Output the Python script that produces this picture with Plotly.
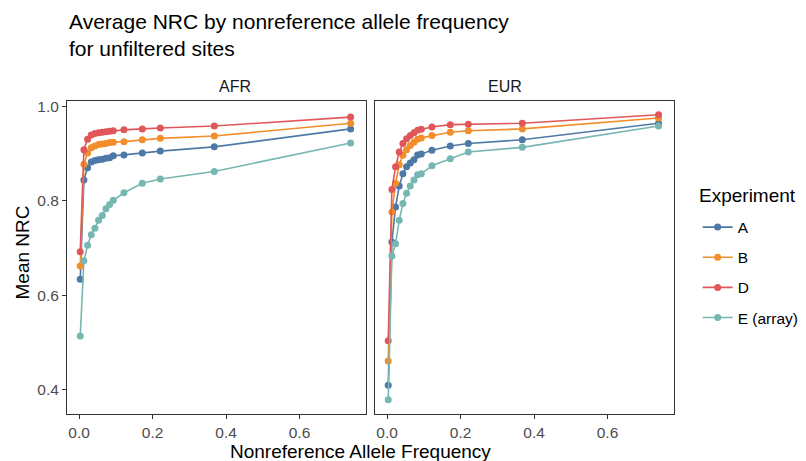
import plotly.graph_objects as go

# ---- data ----
experiments = ["A", "B", "D", "E (array)"]
colors = ["#4E79A7", "#F28E2B", "#E15759", "#76B7B2"]

freq = [0.003, 0.013, 0.023, 0.033, 0.043, 0.053, 0.063, 0.073, 0.083, 0.093,
        0.122, 0.172, 0.221, 0.368, 0.739]

afr_A = [0.634, 0.844, 0.870, 0.882, 0.885, 0.887, 0.888, 0.890, 0.891, 0.895,
         0.897, 0.901, 0.905, 0.914, 0.952]
afr_B = [0.662, 0.877, 0.901, 0.912, 0.916, 0.919, 0.920, 0.921, 0.923, 0.924,
         0.925, 0.929, 0.932, 0.937, 0.964]
afr_D = [0.692, 0.908, 0.930, 0.939, 0.942, 0.944, 0.945, 0.946, 0.947, 0.948,
         0.950, 0.952, 0.954, 0.958, 0.977]
afr_E = [0.514, 0.673, 0.706, 0.728, 0.742, 0.759, 0.769, 0.783, 0.792, 0.801,
         0.817, 0.837, 0.846, 0.862, 0.922]

eur_A = [0.410, 0.713, 0.787, 0.831, 0.857, 0.872, 0.880, 0.887, 0.897, 0.899,
         0.907, 0.916, 0.921, 0.929, 0.964]
eur_B = [0.461, 0.776, 0.837, 0.876, 0.896, 0.908, 0.917, 0.924, 0.930, 0.933,
         0.938, 0.945, 0.948, 0.952, 0.975]
eur_D = [0.504, 0.824, 0.872, 0.903, 0.921, 0.931, 0.938, 0.944, 0.949, 0.951,
         0.956, 0.961, 0.962, 0.964, 0.982]
eur_E = [0.379, 0.683, 0.709, 0.759, 0.794, 0.816, 0.831, 0.844, 0.855, 0.857,
         0.874, 0.889, 0.903, 0.913, 0.958]

x_ticks = [0.0, 0.2, 0.4, 0.6]
y_ticks = [0.4, 0.6, 0.8, 1.0]

afr = [afr_A, afr_B, afr_D, afr_E]
eur = [eur_A, eur_B, eur_D, eur_E]

FONT = "Liberation Sans, Arial, Helvetica, sans-serif"

fig = go.Figure()
for name, col, ya, ye in zip(experiments, colors, afr, eur):
    fig.add_trace(go.Scatter(x=freq, y=ya, mode="lines+markers", name=name,
                             line=dict(color=col, width=1.6),
                             marker=dict(color=col, size=7),
                             xaxis="x", yaxis="y", legendgroup=name))
    fig.add_trace(go.Scatter(x=freq, y=ye, mode="lines+markers", name=name,
                             line=dict(color=col, width=1.6),
                             marker=dict(color=col, size=7),
                             xaxis="x2", yaxis="y3", legendgroup=name,
                             showlegend=False))

axis_common = dict(showline=True, mirror=True, linecolor="#333333", linewidth=1,
                   ticks="outside", ticklen=4, tickcolor="#333333",
                   showgrid=False, zeroline=False,
                   tickfont=dict(family=FONT, size=15.5, color="#4d4d4d"))

xr = [-0.033, 0.781]
yr = [0.349, 1.011]

# page body has an 8px margin: figure is 798x453 drawn at (8, 8)
fig.update_layout(
    width=798, height=453,
    margin=dict(l=59, r=132, t=93, b=47, autoexpand=False),
    plot_bgcolor="white", paper_bgcolor="white",
    font=dict(family=FONT, color="#000000"),
    xaxis=dict(domain=[0, 0.4926], range=xr, tickvals=x_ticks,
               ticktext=["0.0", "0.2", "0.4", "0.6"], anchor="y", **axis_common),
    xaxis2=dict(domain=[0.5074, 1], range=xr, tickvals=x_ticks,
                ticktext=["0.0", "0.2", "0.4", "0.6"], anchor="y3", **axis_common),
    yaxis=dict(domain=[0, 1], range=yr, tickvals=y_ticks,
               ticktext=["0.4", "0.6", "0.8", "1.0"], anchor="x", **axis_common),
    yaxis3=dict(domain=[0, 1], range=yr, anchor="x2", matches="y",
                showline=True, mirror=True, linecolor="#333333", linewidth=1,
                showticklabels=False, ticks="", showgrid=False, zeroline=False),
    legend=dict(x=1.039, y=0.452, xanchor="left", yanchor="middle",
                font=dict(family=FONT, size=15.5), tracegroupgap=7,
                itemwidth=30),
    showlegend=True,
)

annotations = [
    dict(text="Average NRC by nonreference allele frequency<br>for unfiltered sites",
         x=0, y=1, xref="paper", yref="paper", xanchor="left", yanchor="top",
         yshift=93, align="left", showarrow=False,
         font=dict(family=FONT, size=21, color="#000000")),
    dict(text="AFR", x=0.2463, y=1.0, xref="paper", yref="paper", yanchor="middle",
         yshift=15, showarrow=False, font=dict(family=FONT, size=16, color="#1a1a1a")),
    dict(text="EUR", x=0.7537, y=1.0, xref="paper", yref="paper", yanchor="middle",
         yshift=15, showarrow=False, font=dict(family=FONT, size=16, color="#1a1a1a")),
    dict(text="Nonreference Allele Frequency", x=0.5, y=0, xref="paper", yref="paper",
         yanchor="middle", xshift=-10, yshift=-37, showarrow=False,
         font=dict(family=FONT, size=19, color="#000000")),
    dict(text="Mean NRC", x=0, y=0.5, xref="paper", yref="paper", xanchor="center",
         yanchor="middle", xshift=-45, yshift=5, textangle=-90, showarrow=False,
         font=dict(family=FONT, size=19, color="#000000")),
    dict(text="Experiment", x=1.0379, y=0.6965, xref="paper", yref="paper",
         xanchor="left", yanchor="middle", showarrow=False,
         font=dict(family=FONT, size=19, color="#000000")),
]
fig.update_layout(annotations=annotations)

fig.write_html("out.html")
